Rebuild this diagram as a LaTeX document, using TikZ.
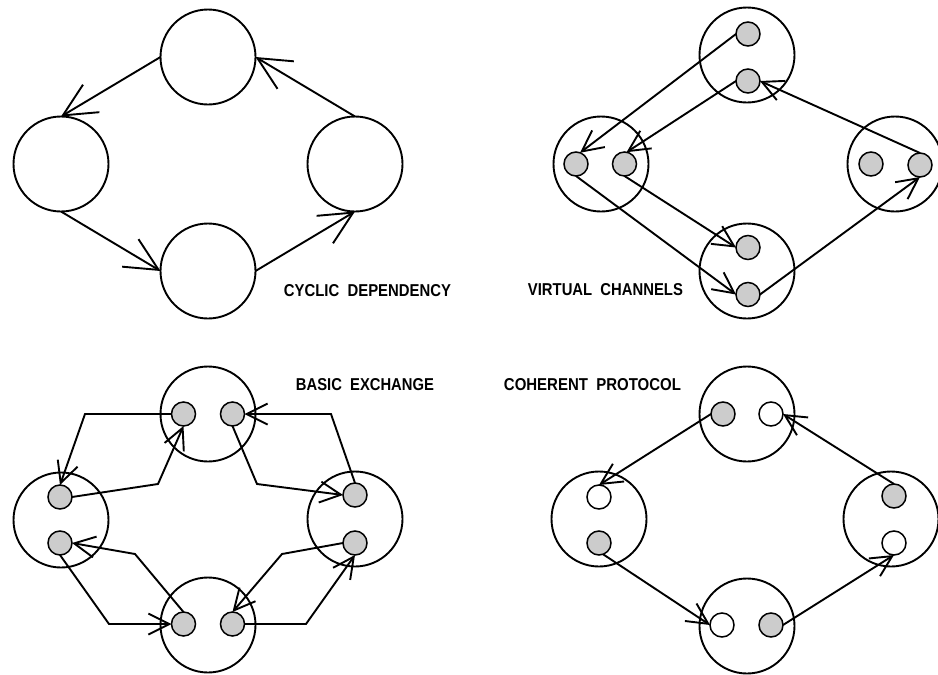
\documentclass[tikz,border=0pt]{standalone}
\usepackage{fontspec}
\setsansfont{Liberation Sans}
\usepackage{graphicx}
\usetikzlibrary{arrows.meta}
\begin{document}
\begin{tikzpicture}[x=1pt,y=-1pt,line width=1.9pt,
  big/.style={circle,draw,minimum size=95pt,inner sep=0pt,outer sep=0pt},
  dotf/.style={circle,draw,fill=gray!40,minimum size=24pt,inner sep=0pt,outer sep=0pt,line width=1.5pt},
  doto/.style={dotf,fill=white},
  bigarrow/.style={-{Straight Barb[length=33pt,width=32pt]}},
  arr/.style={-{Straight Barb[length=21pt,width=21pt]}},
  lbl/.style={anchor=west,inner sep=0pt,font=\sffamily\bfseries}]
\useasboundingbox (0,0) rectangle (938,675);

% Panel 1: cyclic dependency
\node[big] (a1) at (208,57) {};
\node[big] (a2) at (61,164) {};
\node[big] (a3) at (355,164) {};
\node[big] (a4) at (208,271) {};
\draw[bigarrow] (a1.west) -- (a2.north);
\draw[bigarrow] (a3.north) -- (a1.east);
\draw[bigarrow] (a2.south) -- (a4.west);
\draw[bigarrow] (a4.east) -- (a3.south);
\node[lbl] (t1) at (283,291) {\resizebox{167pt}{12pt}{CYCLIC\ \ DEPENDENCY}};

% Panel 2: virtual channels
\node[big] (b1) at (747,55) {};
\node[big] (b2) at (601,164) {};
\node[big] (b3) at (895,164) {};
\node[big] (b4) at (747,271) {};
\node[dotf] (b1u) at (748,34) {};
\node[dotf] (b1d) at (748,81) {};
\node[dotf] (b2l) at (576,164) {};
\node[dotf] (b2r) at (624.5,164) {};
\node[dotf] (b3l) at (871,164) {};
\node[dotf] (b3r) at (920,165) {};
\node[dotf] (b4u) at (748,247.5) {};
\node[dotf] (b4d) at (748,294.5) {};
\draw[arr] (b1u.west) -- (b2l.70);
\draw[arr] (b1d.west) -- (b2r.80);
\draw[arr] (b2l.south) -- (b4d.west);
\draw[arr] (b2r.south) -- (b4u.west);
\draw[arr] (b4d.east) -- (b3r.south);
\draw[arr] (b3r.north) -- (b1d.east);
\node[lbl] (t2) at (527,290) {\resizebox{155pt}{12pt}{VIRTUAL\ \ CHANNELS}};

% Panel 3: basic exchange
\node[big] (c1) at (208,414) {};
\node[big] (c2) at (61,520) {};
\node[big] (c3) at (355,519) {};
\node[big] (c4) at (208,625) {};
\node[dotf] (c1l) at (183.5,414) {};
\node[dotf] (c1r) at (232.5,414) {};
\node[dotf] (c2u) at (60,497) {};
\node[dotf] (c2d) at (60,543) {};
\node[dotf] (c3u) at (355,495) {};
\node[dotf] (c3d) at (355,543) {};
\node[dotf] (c4l) at (183.5,624) {};
\node[dotf] (c4r) at (232.5,624) {};
\coordinate (k1) at (85,414);
\coordinate (k2) at (158,484);
\coordinate (k3) at (257,484);
\coordinate (k4) at (331,414);
\coordinate (k5) at (282,554);
\coordinate (k6) at (306,624);
\coordinate (k7) at (135,554);
\coordinate (k8) at (109,624);
\draw[arr] (c1l.west) -- (k1) -- (c2u.north);
\draw[arr] (c2u.east) -- (k2) -- (c1l.south);
\draw[arr] (c1r.south) -- (k3) -- (c3u.west);
\draw[arr] (c3u.north) -- (k4) -- (c1r.east);
\draw[arr] (c3d.west) -- (k5) -- (c4r.north);
\draw[arr] (c4r.east) -- (k6) -- (c3d.south);
\draw[arr] (c4l.north) -- (k7) -- (c2d.east);
\draw[arr] (c2d.south) -- (k8) -- (c4l.west);
\node[lbl] (t3) at (295,385) {\resizebox{138pt}{12pt}{BASIC\ \ EXCHANGE}};

% Panel 4: coherent protocol
\node[big] (d1) at (747,414) {};
\node[big] (d2) at (599,519) {};
\node[big] (d3) at (891,519) {};
\node[big] (d4) at (747,626) {};
\node[dotf] (d1f) at (723,414) {};
\node[doto] (d1o) at (771,414) {};
\node[doto] (d2o) at (599,497) {};
\node[dotf] (d2f) at (599,543) {};
\node[dotf] (d3f) at (894,496) {};
\node[doto] (d3o) at (894,543) {};
\node[doto] (d4o) at (722,625) {};
\node[dotf] (d4f) at (771,625) {};
\draw[arr] (d1f.west) -- (d2o.north);
\draw[arr] (d2f.-70) -- (d4o.west);
\draw[arr] (d4f.east) -- (d3o.south);
\draw[arr] (d3f.north) -- (d1o.east);
\node[lbl] (t4) at (503,385) {\resizebox{177pt}{12pt}{COHERENT\ \ PROTOCOL}};
\end{tikzpicture}
\end{document}
